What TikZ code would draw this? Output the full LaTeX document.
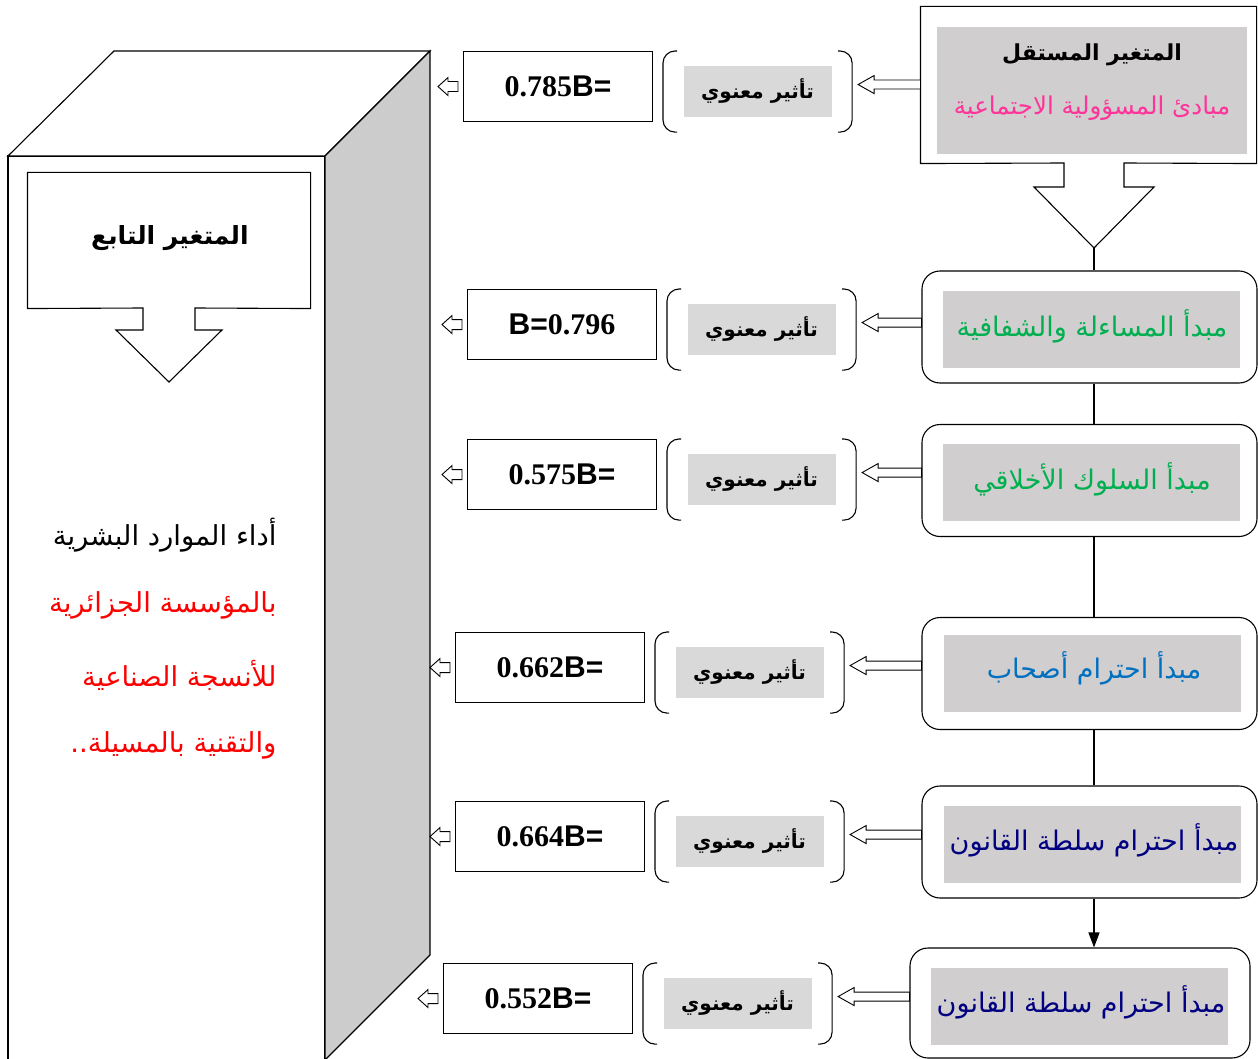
\documentclass[tikz,border=0pt]{standalone}
\usepackage{fontspec}
\setmainfont{Liberation Serif}
\newfontfamily\arfont[Script=Arabic]{DejaVu Sans}
\newfontfamily\lsans{Liberation Sans}
\TeXXeTstate=1
\usetikzlibrary{calc,arrows.meta}
\definecolor{boxgray}{HTML}{D0CECE}
\definecolor{tgray}{HTML}{D9D9D9}
\definecolor{sidegray}{HTML}{CCCCCC}
\definecolor{pinkc}{HTML}{FF3399}
\definecolor{greenc}{HTML}{00B050}
\definecolor{bluec}{HTML}{0070C0}
\definecolor{navyc}{HTML}{000080}
\definecolor{redc}{HTML}{FF0000}
\newcommand\ar[1]{{\arfont\beginR #1\endR}}
\newcommand\fs[1]{\fontsize{#1}{#1}\selectfont}
\newcommand\blockarrow[5]{\draw[fill=white, line width=0.9pt] let \p1=#1, \p2=#2 in
  (\x1,\y1) -- (\x1+#3pt,\y1+#4pt) -- (\x1+#3pt,\y1+#5pt) -- (\x2,\y1+#5pt) --
  (\x2,\y1-#5pt) -- (\x1+#3pt,\y1-#5pt) -- (\x1+#3pt,\y1-#4pt) -- cycle;}
\begin{document}
\begin{tikzpicture}[x=1pt,y=-1pt,line width=1.1pt,
  outerbox/.style={draw, fill=white, rounded corners=18pt, minimum width=335pt, minimum height=112pt, inner sep=0pt},
  innerbox/.style={fill=boxgray, minimum width=297pt, minimum height=77pt, inner sep=0pt},
  ptext/.style={inner sep=0pt, font=\arfont\fs{27}},
  numbox/.style={draw, fill=white, minimum width=189pt, minimum height=70pt, inner sep=0pt, font=\bfseries\fs{30}},
  tbox/.style={fill=tgray, minimum width=148pt, minimum height=51pt, inner sep=0pt, font=\arfont\bfseries\fs{20}},
  brk/.style={minimum width=188pt, minimum height=80pt, inner sep=0pt},
  ltext/.style={anchor=east, inner sep=0pt, font=\arfont\fs{27.5}},
]
\useasboundingbox (0,0) rectangle (1258,1059);
% ---- 3D box (dependent variable) ----
\draw[fill=white] (8,156) -- (325,156) -- (325,1066) -- (8,1066) -- cycle;
\draw[fill=white] (8,156) -- (114,51) -- (430,51) -- (325,156) -- cycle;
\draw[fill=sidegray] (325,156) -- (430,51) -- (430,955) -- (325,1060) -- cycle;
% inner box with arrow
\node[minimum width=282pt, minimum height=135pt, inner sep=0pt] (depo) at (169,240.5) {};
\draw[fill=white] (depo.north west) -- (depo.north east) -- (depo.south east) -- (195,308) -- (195,330) -- (222,330) -- (169,382) -- (116,330) -- (143,330) -- (143,308) -- (depo.south west) -- cycle;
\node[font=\arfont\bfseries\fs{25}, inner sep=0pt] (deptitle) at (170,238) {\ar{المتغير التابع}};
\node[ltext] (l1) at (277,535) {\ar{أداء الموارد البشرية}};
\node[ltext, text=redc] (l2) at (277,605) {\ar{بالمؤسسة الجزائرية}};
\node[ltext, text=redc] (l3) at (277,675) {\ar{للأنسجة الصناعية}};
\node[ltext, text=redc] (l4) at (277,745) {\ar{والتقنية بالمسيلة..}};
% ---- independent variable box ----
\node[minimum width=335pt, minimum height=156pt, inner sep=0pt] (indepo) at (1088.5,85) {};
\draw[fill=white] (indepo.north west) -- (indepo.north east) -- (indepo.south east) -- (1124,163) -- (1124,187) -- (1154,187) -- (1094,248) -- (1034,187) -- (1064,187) -- (1064,163) -- (indepo.south west) -- cycle;
\coordinate (indeptip) at (1094,248);
\node[fill=boxgray, minimum width=310pt, minimum height=127pt, inner sep=0pt] (indep) at (1092,90.5) {};
\node[font=\arfont\bfseries\fs{22}, inner sep=0pt] (indeptitle) at (1092,55) {\ar{المتغير المستقل}};
\node[font=\arfont\fs{24.5}, text=pinkc, inner sep=0pt] (indepsub) at (1092,108) {\ar{مبادئ المسؤولية الاجتماعية}};
% ---- principles ----
\node[outerbox] (p1o) at (1089.5,327) {};
\node[innerbox] (p1) at (1091.5,329.5) {};
\node[ptext, text=greenc] at (1092,326) {\ar{مبدأ المساءلة والشفافية}};
\node[outerbox] (p2o) at (1089.5,480.5) {};
\node[innerbox] (p2) at (1091.5,482.5) {};
\node[ptext, text=greenc] at (1092,479) {\ar{مبدأ السلوك الأخلاقي}};
\node[outerbox] (p3o) at (1089.5,673.5) {};
\node[innerbox] (p3) at (1092,673) {};
\node[ptext, text=bluec] at (1094,668) {\ar{مبدأ احترام أصحاب}};
\node[outerbox] (p4o) at (1089.5,842) {};
\node[innerbox] (p4) at (1092,844.5) {};
\node[ptext, text=navyc] at (1094,840) {\ar{مبدأ احترام سلطة القانون}};
\node[outerbox, minimum width=340pt, minimum height=110pt] (p5o) at (1080,1003) {};
\node[innerbox] (p5) at (1079.5,1006.5) {};
\node[ptext, text=navyc] at (1081,1002) {\ar{مبدأ احترام سلطة القانون}};
% vertical connectors
\draw (indeptip) -- (indeptip |- p1o.north);
\draw (p1o.south -| indeptip) -- (p2o.north -| indeptip);
\draw (p2o.south -| indeptip) -- (p3o.north -| indeptip);
\draw (p3o.south -| indeptip) -- (p4o.north -| indeptip);
\draw[-{Triangle[length=15pt,width=11pt]}] (p4o.south -| indeptip) -- (p5o.north -| indeptip);
% ---- rows ----
\foreach \i/\L/\T/\src/\txt in {
  1/463/51/indepo/{\textbf{0.785}{\lsans\bfseries B=}},
  2/467/289/p1o/{{\lsans\bfseries B=}\textbf{0.796}},
  3/467/439/p2o/{\textbf{0.575}{\lsans\bfseries B=}},
  4/455/632/p3o/{\textbf{0.662}{\lsans\bfseries B=}},
  5/455/801/p4o/{\textbf{0.664}{\lsans\bfseries B=}},
  6/443/963/p5o/{\textbf{0.552}{\lsans\bfseries B=}}}{
  \node[numbox, anchor=north west] (n\i) at (\L,\T) {\txt};
  \node[brk, anchor=north west] (b\i) at (\L+200,\T) {};
  \node[tbox, anchor=north west] (t\i) at (\L+220,\T+14) {\ar{تأثير معنوي}};
  \draw[rounded corners=12pt] ([xshift=14pt]b\i.north west) -- (b\i.north west) -- (b\i.south west) -- ([xshift=14pt]b\i.south west);
  \draw[rounded corners=12pt] ([xshift=-14pt]b\i.north east) -- (b\i.north east) -- (b\i.south east) -- ([xshift=-14pt]b\i.south east);
  \blockarrow{($(b\i.east)+(6,-7)$)}{(\src.west)}{16}{9}{4.5}
  \blockarrow{($(n\i.west)+(-25,0)$)}{($(n\i.west)+(-5,0)$)}{10}{9}{5}
}
\end{tikzpicture}
\end{document}
